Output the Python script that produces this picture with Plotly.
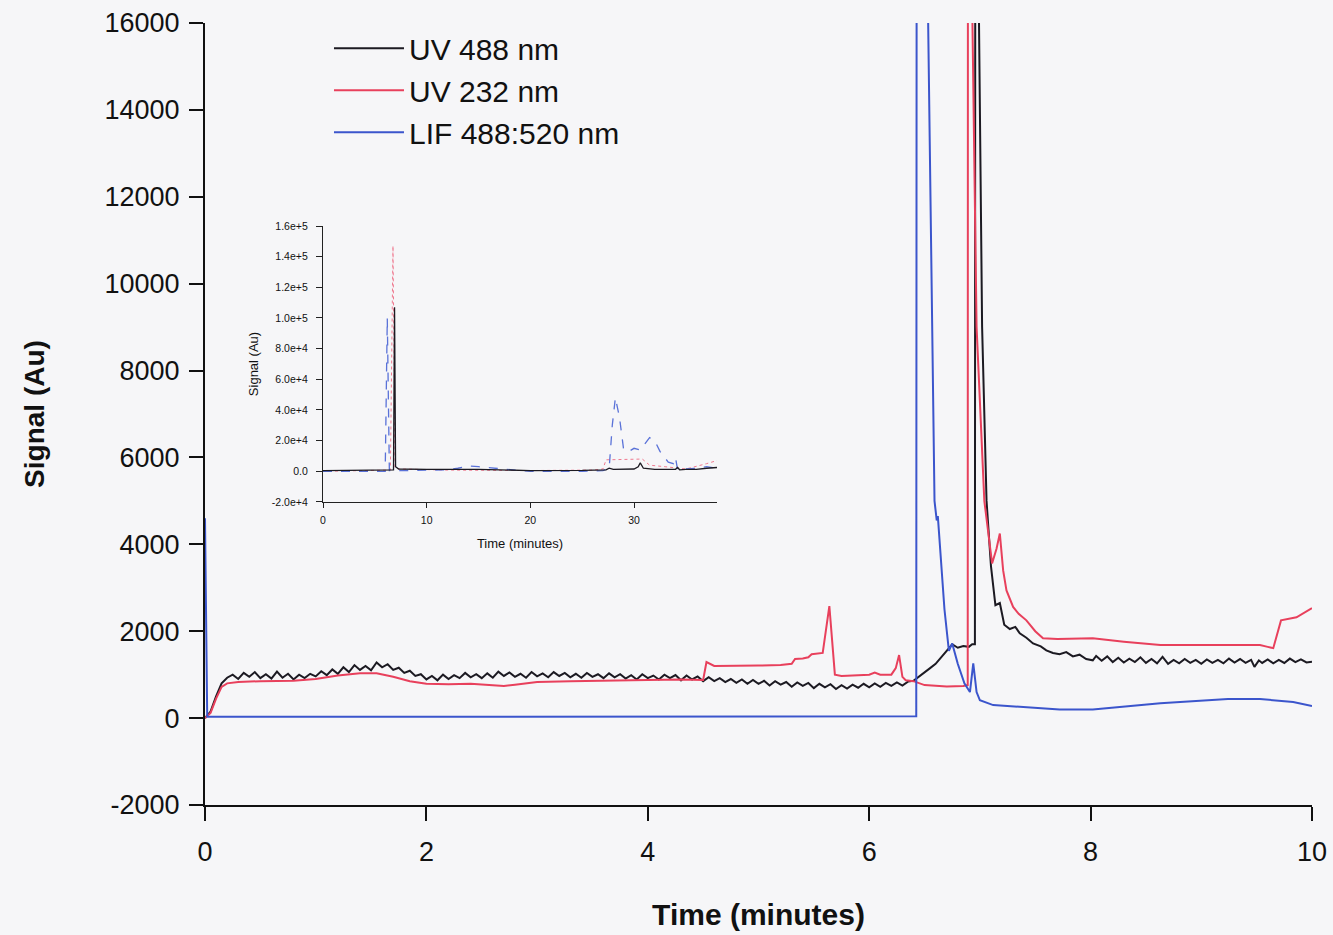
import plotly.graph_objects as go

# ---------------- main chart data (minutes, Au) ----------------
black_t = [0.00, 0.05, 0.10, 0.15, 0.20, 0.25, 0.30, 0.35, 0.40, 0.45, 0.50, 0.55, 0.60, 0.65, 0.70, 0.75,
           0.80, 0.85, 0.90, 0.95, 1.00, 1.05, 1.10, 1.15, 1.20, 1.25, 1.30, 1.35, 1.40, 1.45, 1.50, 1.55,
           1.60, 1.65, 1.70, 1.75, 1.80, 1.85, 1.90, 1.95, 2.00, 2.05, 2.10, 2.15, 2.20, 2.25, 2.30, 2.35,
           2.40, 2.45, 2.50, 2.55, 2.60, 2.65, 2.70, 2.75, 2.80, 2.85, 2.90, 2.95, 3.00, 3.05, 3.10, 3.15,
           3.20, 3.25, 3.30, 3.35, 3.40, 3.45, 3.50, 3.55, 3.60, 3.65, 3.70, 3.75, 3.80, 3.85, 3.90, 3.95,
           4.00, 4.05, 4.10, 4.15, 4.20, 4.25, 4.30, 4.35, 4.40, 4.45, 4.50, 4.55, 4.60, 4.65, 4.70, 4.75,
           4.80, 4.85, 4.90, 4.95, 5.00, 5.05, 5.10, 5.15, 5.20, 5.25, 5.30, 5.35, 5.40, 5.45, 5.50, 5.55,
           5.60, 5.65, 5.70, 5.75, 5.80, 5.85, 5.90, 5.95, 6.00, 6.05, 6.10, 6.15, 6.20, 6.25, 6.30, 6.35,
           6.40, 6.45, 6.50, 6.55, 6.60, 6.65, 6.70, 6.75, 6.80, 6.85, 6.90, 6.93, 6.955, 6.975, 6.99, 7.02,
           7.06, 7.10, 7.14, 7.18, 7.22, 7.27, 7.32, 7.36, 7.42, 7.48, 7.55, 7.60, 7.66, 7.72, 7.78, 7.84,
           7.90, 7.96, 8.02, 8.05, 8.10, 8.15, 8.20, 8.25, 8.30, 8.35, 8.40, 8.45, 8.50, 8.55, 8.60, 8.65,
           8.70, 8.75, 8.80, 8.85, 8.90, 8.95, 9.00, 9.05, 9.10, 9.15, 9.20, 9.25, 9.30, 9.35, 9.40, 9.45,
           9.48, 9.52, 9.55, 9.60, 9.65, 9.70, 9.75, 9.80, 9.85, 9.90, 9.95, 10.00]
black_v = [0, 150, 500, 800, 930, 1000, 900, 1040, 950, 1060, 920, 1010, 910, 1070, 930, 1020,
           890, 1000, 920, 1020, 960, 1080, 990, 1120, 1020, 1170, 1060, 1220, 1110, 1200, 1100, 1280,
           1170, 1240, 1110, 1160, 1040, 1090, 970, 1010, 890, 970, 870, 1000, 900, 990, 920, 1040,
           940, 1010, 920, 1030, 930, 1070, 970, 1050, 950, 1020, 930, 1060, 960, 1030, 940, 1060,
           970, 1040, 940, 1020, 930, 1040, 950, 1010, 920, 1030, 940, 1010, 910, 990, 890, 1010,
           920, 980, 890, 1000, 920, 990, 870, 980, 890, 960, 850, 940, 850, 920, 830, 900,
           810, 890, 790, 880, 790, 860, 750, 850, 770, 830, 720, 820, 740, 810, 690, 790,
           710, 780, 670, 760, 680, 770, 700, 790, 710, 800, 720, 810, 740, 820, 750, 840,
           860, 950, 1050, 1150, 1250, 1400, 1550, 1700, 1620, 1660, 1640, 1700, 1700, 107000, 16500, 9000,
           5000, 3500, 2600, 2650, 2150, 2050, 2100, 1950, 1850, 1720, 1650, 1560, 1500, 1470, 1520, 1420,
           1460, 1360, 1330, 1430, 1320, 1420, 1290, 1390, 1280, 1370, 1290, 1400, 1270, 1360, 1260, 1410,
           1250, 1340, 1260, 1360, 1270, 1340, 1250, 1350, 1270, 1340, 1260, 1370, 1280, 1360, 1270, 1340,
           1180, 1330, 1270, 1350, 1260, 1340, 1270, 1370, 1290, 1350, 1280, 1300]

red_t = [0.00, 0.05, 0.10, 0.15, 0.20, 0.30, 0.50, 0.80, 1.00, 1.20, 1.40, 1.55, 1.70, 1.85, 2.00, 2.20,
         2.40, 2.60, 2.70, 2.80, 3.00, 3.30, 3.60, 4.00, 4.30, 4.50, 4.53, 4.56, 4.60, 5.00, 5.20, 5.30,
         5.33, 5.40, 5.45, 5.48, 5.58, 5.64, 5.69, 5.75, 5.90, 6.00, 6.05, 6.10, 6.20, 6.24, 6.27, 6.30,
         6.33, 6.40, 6.50, 6.70, 6.85, 6.89, 6.905, 6.93, 6.97, 7.04, 7.11, 7.15, 7.18, 7.21, 7.24, 7.30,
         7.35, 7.42, 7.50, 7.57, 7.70, 8.02, 8.30, 8.63, 9.00, 9.53, 9.60, 9.65, 9.72, 9.77, 9.86, 10.00]
red_v = [0, 120, 450, 720, 800, 830, 850, 860, 900, 980, 1030, 1030, 950, 850, 790, 780,
         790, 760, 740, 770, 830, 850, 870, 880, 890, 880, 1290, 1250, 1200, 1210, 1220, 1250,
         1360, 1370, 1400, 1470, 1500, 2580, 1000, 970, 980, 1000, 1050, 1000, 1000, 1150, 1450, 950,
         870, 850, 760, 730, 740, 760, 147000, 16500, 9000, 5000, 3560, 3900, 4250, 3400, 2940, 2560,
         2400, 2250, 2000, 1840, 1820, 1840, 1760, 1680, 1680, 1680, 1640, 1610, 2250, 2280, 2320, 2530]

blue_t = [0.00, 0.02, 1.00, 3.00, 5.00, 6.00, 6.425, 6.445, 6.53, 6.59, 6.60, 6.61, 6.62, 6.64, 6.68, 6.72,
          6.75, 6.80, 6.86, 6.91, 6.94, 6.97, 7.00, 7.12, 7.42, 7.72, 8.02, 8.63, 9.24, 9.53, 9.83, 10.00]
blue_v = [4600, 30, 30, 30, 35, 40, 40, 100000, 16500, 5000, 4700, 4550, 4650, 4000, 2500, 1550,
          1720, 1250, 800, 600, 1260, 600, 410, 300, 250, 200, 200, 340, 440, 440, 370, 280]

# ---------------- inset data (0-38 min) ----------------
in_black_t = [0, 3, 6.3, 6.8, 6.9, 7.0, 7.3, 10, 15, 20, 25, 27.3, 27.6, 28, 30, 30.4, 30.6, 30.9, 32, 34,
              34.2, 34.4, 35, 36, 37, 38]
in_black_v = [500, 700, 800, 1000, 107000, 3000, 1500, 1200, 1300, 500, 600, 1000, 2000, 1200, 1500, 3000,
              5500, 2000, 1200, 1300, 2500, 1000, 1300, 1200, 2000, 2500]
in_red_t = [0, 6.5, 6.75, 6.95, 7.5, 12, 20, 26, 27.0, 27.3, 30.8, 31.5, 33, 35, 37, 38]
in_red_v = [0, 800, 147000, 2000, 1500, 800, 500, 800, 1500, 7500, 8000, 4000, 3000, 1500, 5000, 7000]
in_blue_t = [0, 6.0, 6.2, 6.4, 8, 12, 13, 14, 15, 17, 19, 20, 25, 27, 27.6, 27.9, 28.2, 28.6, 29.0, 29.5,
             30.0, 30.6, 31.5, 32.0, 32.5, 33.3, 33.8, 34.0, 34.2, 35, 36, 37, 38]
in_blue_v = [0, 0, 100000, 500, 500, 1000, 2000, 3500, 3000, 1500, 500, 0, 0, 500, 2000, 30000, 48000, 35000,
             14000, 13000, 15000, 14000, 22000, 20000, 13000, 6000, 5000, 9000, 1000, 1500, 2000, 3000, 2000]

# ---------------- tick labels ----------------
main_xticks = [0, 2, 4, 6, 8, 10]
main_yticks = [-2000, 0, 2000, 4000, 6000, 8000, 10000, 12000, 14000, 16000]
main_yticktext = ["-2000", "0", "2000", "4000", "6000", "8000", "10000", "12000", "14000", "16000"]
inset_xticks = [0, 10, 20, 30]
inset_yticks = [-20000, 0, 20000, 40000, 60000, 80000, 100000, 120000, 140000, 160000]
inset_yticktext = ["-2.0e+4", "0.0", "2.0e+4", "4.0e+4", "6.0e+4", "8.0e+4", "1.0e+5", "1.2e+5", "1.4e+5", "1.6e+5"]

names = ["UV 488 nm", "UV 232 nm", "LIF 488:520 nm"]
BLACK = "#1c1a22"
RED = "#e8405c"
BLUE = "#3b55cc"
FONT = "Arial, Liberation Sans, sans-serif"
BG = "#f6f6f8"

fig = go.Figure()
fig.add_trace(go.Scatter(x=black_t, y=black_v, mode="lines", name=names[0],
                         line=dict(color=BLACK, width=2)))
fig.add_trace(go.Scatter(x=red_t, y=red_v, mode="lines", name=names[1],
                         line=dict(color=RED, width=2)))
fig.add_trace(go.Scatter(x=blue_t, y=blue_v, mode="lines", name=names[2],
                         line=dict(color=BLUE, width=2)))

# inset
fig.add_trace(go.Scatter(x=in_red_t, y=in_red_v, mode="lines", xaxis="x2", yaxis="y2", showlegend=False,
                         line=dict(color="#f07a90", width=1, dash="dot")))
fig.add_trace(go.Scatter(x=in_blue_t, y=in_blue_v, mode="lines", xaxis="x2", yaxis="y2", showlegend=False,
                         line=dict(color="#5a72d8", width=1.3, dash="dash")))
fig.add_trace(go.Scatter(x=in_black_t, y=in_black_v, mode="lines", xaxis="x2", yaxis="y2", showlegend=False,
                         line=dict(color=BLACK, width=1.3)))

fig.update_layout(
    width=1333, height=935,
    margin=dict(l=205, r=21, t=23, b=130, autoexpand=False),
    paper_bgcolor=BG, plot_bgcolor=BG,
    font=dict(family=FONT, color="#111111"),
    showlegend=True,
    legend=dict(x=0.112, y=1.001, xanchor="left", yanchor="top", bgcolor="rgba(0,0,0,0)",
                font=dict(size=30, family=FONT, color="#111111"), tracegroupgap=0,
                itemwidth=70),
    xaxis=dict(range=[0, 10], tickvals=main_xticks, ticks="outside", ticklen=14, tickwidth=2,
               tickcolor="#111", showline=True, linecolor="#111", linewidth=2, showgrid=False,
               zeroline=False, tickfont=dict(size=27, family=FONT), ticklabelstandoff=8, automargin=False,
               title=dict(text="<b>Time (minutes)</b>", font=dict(size=30, family=FONT), standoff=38)),
    yaxis=dict(range=[-2000, 16000], tickvals=main_yticks, ticktext=main_yticktext, ticks="outside",
               ticklen=14, tickwidth=2, tickcolor="#111", showline=True, linecolor="#111", linewidth=2,
               showgrid=False, zeroline=False, tickfont=dict(size=27, family=FONT), ticklabelstandoff=4,
               automargin=False,
               title=dict(text="<b>Signal (Au)</b>", font=dict(size=28, family=FONT), standoff=52)),
    xaxis2=dict(domain=[0.1066, 0.4625], anchor="y2", range=[0, 38], tickvals=inset_xticks,
                ticks="outside", ticklen=5, tickwidth=1, tickcolor="#222", showline=True, linecolor="#222",
                linewidth=1.3, showgrid=False, zeroline=False, tickfont=dict(size=10.5, family=FONT),
                ticklabelstandoff=3, automargin=False,
                title=dict(text="Time (minutes)", font=dict(size=13, family=FONT), standoff=14)),
    yaxis2=dict(domain=[0.3875, 0.7404], anchor="x2", range=[-20000, 160000], tickvals=inset_yticks,
                ticktext=inset_yticktext, ticks="outside", ticklen=6, tickwidth=1, tickcolor="#222",
                showline=True, linecolor="#222", linewidth=1.3, showgrid=False, zeroline=False,
                tickfont=dict(size=10.5, family=FONT), ticklabelstandoff=6, automargin=False,
                title=dict(text="Signal (Au)", font=dict(size=13, family=FONT), standoff=10)),
)

fig.write_html("out.html", config={"displayModeBar": False},
               post_script="document.body.style.margin='0';document.body.style.background='" + BG + "';")
